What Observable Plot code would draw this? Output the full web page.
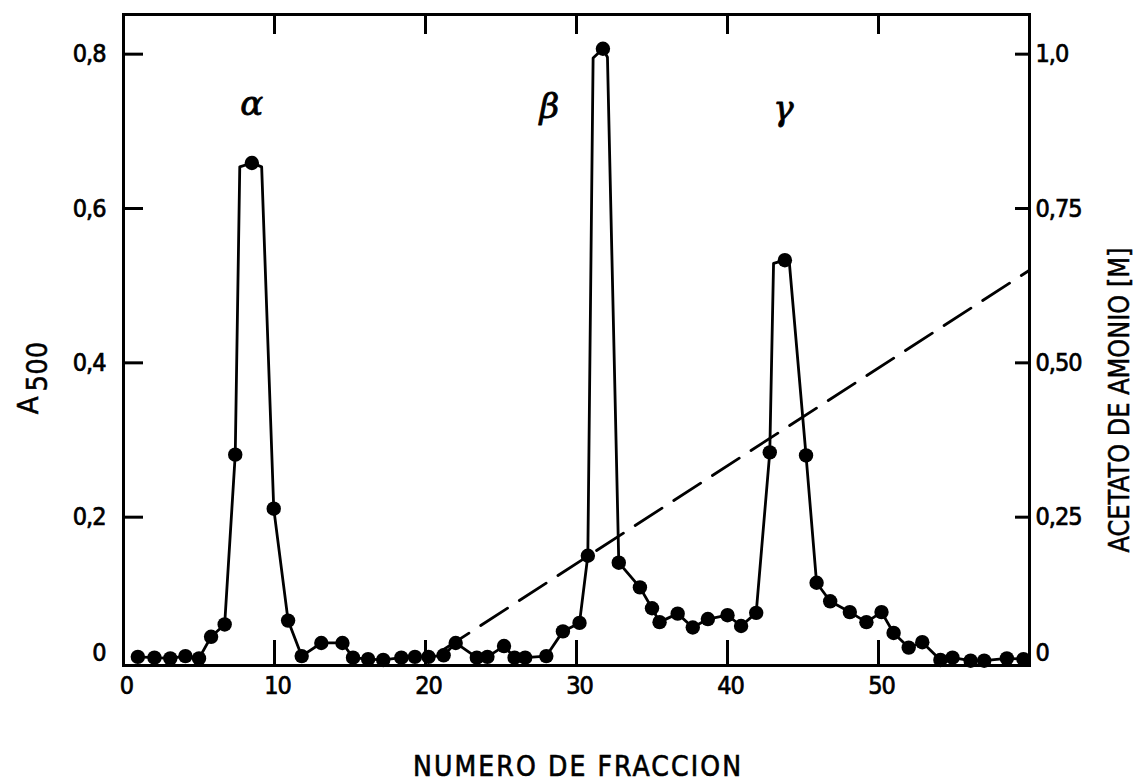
<!DOCTYPE html>
<html><head><meta charset="utf-8">
<script src="https://cdn.jsdelivr.net/npm/d3@7"></script>
<script src="https://cdn.jsdelivr.net/npm/@observablehq/plot@0.6"></script>
<style>
body{margin:0;background:#fff;}
</style></head><body><div id="chart"></div>
<script>
// Absorbance (A500) per fraction
const fractions = [0.95, 2.05, 3.1, 4.1, 5.0, 5.8, 6.7, 7.4, 8.5, 9.95, 10.9, 11.8, 13.1, 14.5, 15.2, 16.2, 17.2, 18.4, 19.3, 20.2, 21.2, 22.0, 23.4, 24.1, 25.2, 25.9, 26.6, 28.0, 29.1, 30.2, 30.75, 31.75, 32.8, 34.2, 35.0, 35.5, 36.7, 37.7, 38.7, 40.0, 40.9, 41.9, 42.8, 43.8, 45.2, 45.9, 46.8, 48.1, 49.2, 50.2, 51.0, 52.0, 52.9, 54.1, 54.9, 56.1, 57.0, 58.5, 59.6];
const a500 = [0.019, 0.018, 0.017, 0.020, 0.017, 0.045, 0.061, 0.281, 0.659, 0.211, 0.066, 0.020, 0.037, 0.037, 0.018, 0.016, 0.015, 0.018, 0.019, 0.019, 0.021, 0.037, 0.018, 0.019, 0.033, 0.018, 0.018, 0.020, 0.052, 0.063, 0.150, 0.807, 0.141, 0.109, 0.082, 0.064, 0.075, 0.057, 0.068, 0.073, 0.059, 0.076, 0.284, 0.533, 0.280, 0.115, 0.091, 0.077, 0.064, 0.077, 0.050, 0.031, 0.038, 0.015, 0.018, 0.014, 0.014, 0.017, 0.016];
// flat shoulders of the hand-drawn peaks (curve vertices without dots)
const shoulderFractions = [7.7, 9.15, 31.1, 32.05, 43.05, 44.1];
const shoulderA500 = [0.654, 0.654, 0.795, 0.796, 0.529, 0.529];
// ammonium acetate gradient (M)
const gradientFractions = [21.1, 60];
const gradientMolar = [0.034, 0.65];
// axes
const xTicks = [0, 10, 20, 30, 40, 50];
const xTickLabels = ["0", "10", "20", "30", "40", "50"];
const leftTicks = [0.2, 0.4, 0.6, 0.8];
const leftTickLabels = ["0,2", "0,4", "0,6", "0,8"];
const rightTicks = [0.25, 0.5, 0.75, 1.0];
const rightTickLabels = ["0,25", "0,50", "0,75", "1,0"];
const zeroLabel = "0";
const molarToA500 = 0.8; // 1,0 M sits level with A500 0,8
const peakNames = ["α", "β", "γ"];
const peakFractions = [8.5, 28.2, 43.7];
const peakLabelA500 = [0.735, 0.731, 0.729];

const dots = fractions.map((f, i) => ({f, a: a500[i]}));
const curve = dots.concat(shoulderFractions.map((f, i) => ({f, a: shoulderA500[i]}))).sort((p, q) => p.f - q.f);
const gradient = gradientFractions.map((f, i) => ({f, a: gradientMolar[i] * molarToA500}));
const rightPos = rightTicks.map(m => m * molarToA500);
const peaks = peakNames.map((n, i) => ({n, f: peakFractions[i], a: peakLabelA500[i]}));

const W = 1143, H = 784;
const mL = 123, mR = 114, mT = 14, mB = 119;
const fw = W - mL - mR, fh = H - mT - mB;
const yDomain = [0.0078, 0.8514];
const font = "'DejaVu Sans Condensed', 'DejaVu Sans', sans-serif";
const fs = 25;

const plot = Plot.plot({
  width: W, height: H,
  marginLeft: mL, marginRight: mR, marginTop: mT, marginBottom: mB,
  style: {fontFamily: font, fontSize: "25px", background: "#fff", color: "#000"},
  x: {domain: [0, 60]},
  y: {domain: yDomain},
  marks: [
    Plot.axisX(xTicks, {anchor: "bottom", tickSize: 0, tickPadding: 11, fontSize: fs, dx: 3, tickFormat: d => xTickLabels[xTicks.indexOf(d)], label: null}),
    Plot.axisY(leftTicks, {anchor: "left", tickSize: 0, tickPadding: 18, fontSize: fs, tickFormat: d => leftTickLabels[leftTicks.indexOf(d)], label: null}),
    Plot.axisY([yDomain[0]], {anchor: "left", tickSize: 0, tickPadding: 18, fontSize: fs, dy: -13, tickFormat: () => zeroLabel, label: null}),
    Plot.axisY(rightPos, {anchor: "right", tickSize: 0, tickPadding: 6, fontSize: fs, tickFormat: d => rightTickLabels[rightPos.indexOf(d)], label: null}),
    Plot.axisY([yDomain[0]], {anchor: "right", tickSize: 0, tickPadding: 6, fontSize: fs, dy: -13, tickFormat: () => zeroLabel, label: null}),
    Plot.tickY(leftTicks, {y: d => d, insetRight: fw - 20, strokeWidth: 3}),
    Plot.tickY(rightPos, {y: d => d, insetLeft: fw - 14, strokeWidth: 3}),
    Plot.tickX(xTicks.slice(1), {x: d => d, insetTop: fh - 25, strokeWidth: 3}),
    Plot.tickX(xTicks.slice(1), {x: d => d, insetBottom: fh - 20, strokeWidth: 3}),
    Plot.frame({stroke: "#000", strokeWidth: 3}),
    Plot.line(gradient, {x: "f", y: "a", stroke: "#000", strokeWidth: 2.8, strokeDasharray: "32,14"}),
    Plot.line(curve, {x: "f", y: "a", stroke: "#000", strokeWidth: 2.8}),
    Plot.dot(dots, {x: "f", y: "a", r: 7.2, fill: "#000", stroke: "none"}),
    Plot.text(peaks, {x: "f", y: "a", text: "n", fontSize: 34, fontFamily: "'DejaVu Serif', serif", fontStyle: "italic", fill: "#000", stroke: "#000", strokeWidth: 0.8})
  ]
});
document.getElementById("chart").appendChild(plot);

const svg = d3.select(plot);
// heavier, tighter tick labels like the printed figure
svg.selectAll('g[aria-label$="tick label"]').attr("stroke", "#000").attr("stroke-width", 0.7).style("letter-spacing", "-1px");
// x axis title
svg.append("text").attr("x", 577).attr("y", 768).attr("text-anchor", "middle").attr("dominant-baseline", "middle")
  .attr("font-family", font).attr("font-size", 28).attr("stroke", "#000").attr("stroke-width", 0.6)
  .attr("textLength", 328).attr("lengthAdjust", "spacing")
  .text("NUMERO DE FRACCION");
// left axis title with subscript
const yl = svg.append("text").attr("transform", "translate(38,378) rotate(-90)").attr("text-anchor", "middle")
  .attr("font-family", font).attr("font-size", 29).attr("stroke", "#000").attr("stroke-width", 0.5);
yl.append("tspan").text("A");
yl.append("tspan").attr("dy", 9).attr("dx", 5).text("500");
// right axis title
svg.append("text").attr("transform", "translate(1121,400) rotate(-90)").attr("text-anchor", "middle").attr("dominant-baseline", "middle")
  .attr("font-family", font).attr("font-size", 29).attr("stroke", "#000").attr("stroke-width", 0.5)
  .attr("textLength", 305).attr("lengthAdjust", "spacingAndGlyphs")
  .text("ACETATO DE AMONIO [M]");
</script></body></html>
